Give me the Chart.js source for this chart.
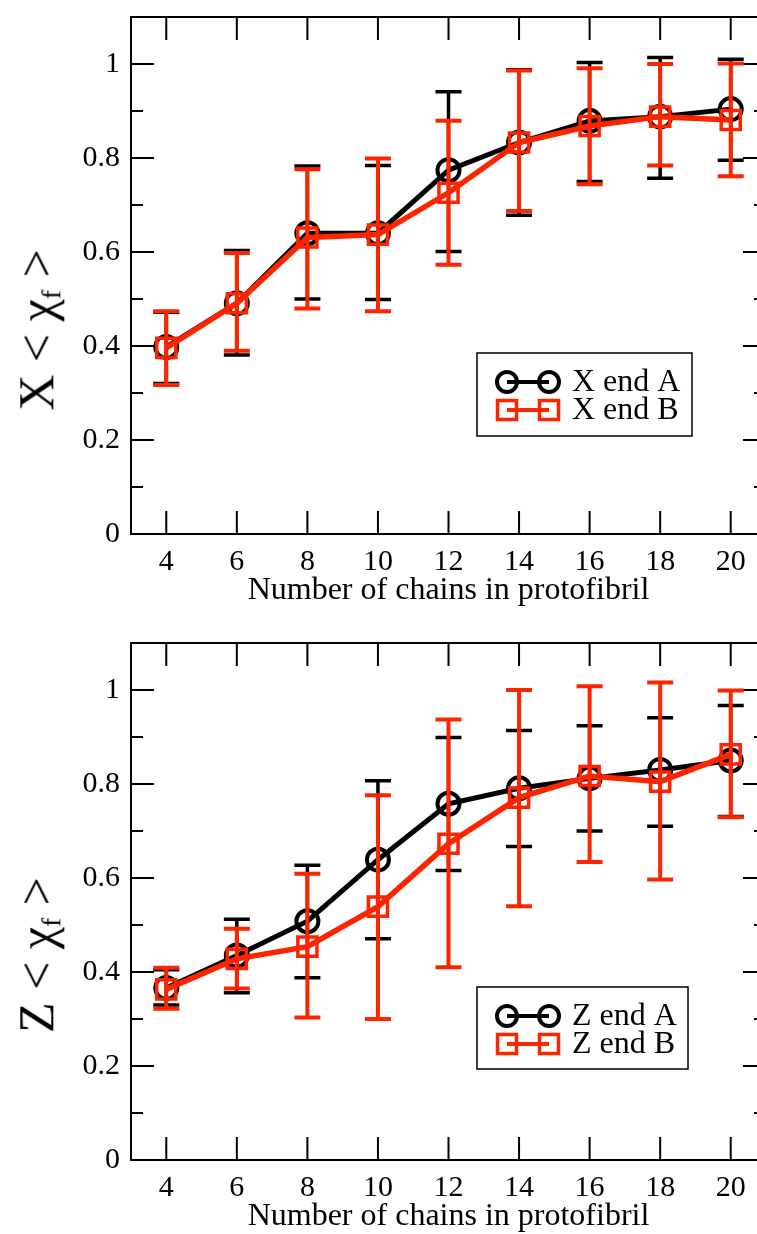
<!DOCTYPE html>
<html>
<head>
<meta charset="utf-8">
<script src="https://cdn.jsdelivr.net/npm/chart.js@4.4.0/dist/chart.umd.min.js"></script>
<style>
  body { margin: 0; width: 757px; height: 1234px; overflow: hidden; background: #fff; position: relative; }
  .panel { position: absolute; left: 0; width: 790px; height: 608px; }
  .ytitle {
    position: absolute; font-family: "Liberation Serif", serif; font-size: 50px; white-space: nowrap;
    transform: translate(-50%, -50%) rotate(-90deg); line-height: 1;
  }
  .ytitle sub { font-size: 55%; vertical-align: -0.25em; }
</style>
</head>
<body>
<div class="panel" style="top:0"><canvas id="chartX" width="790" height="608"></canvas></div>
<div class="panel" style="top:626px"><canvas id="chartZ" width="790" height="608"></canvas></div>
<div class="ytitle" style="left:38px; top:330px">X &lt; χ<sub>f</sub> &gt;</div>
<div class="ytitle" style="left:38px; top:955px">Z &lt; χ<sub>f</sub> &gt;</div>
<script>
// x values (number of chains)
const chains = [4, 6, 8, 10, 12, 14, 16, 18, 20];

// top panel, X direction
const xEndA = [0.398, 0.491, 0.640, 0.640, 0.774, 0.833, 0.879, 0.888, 0.904];
const xEndALow = [0.320, 0.381, 0.500, 0.499, 0.601, 0.678, 0.750, 0.757, 0.795];
const xEndAHigh = [0.472, 0.603, 0.783, 0.784, 0.941, 0.988, 1.003, 1.014, 1.010];
const xEndB = [0.396, 0.491, 0.631, 0.637, 0.726, 0.833, 0.868, 0.888, 0.881];
const xEndBLow = [0.317, 0.390, 0.480, 0.474, 0.573, 0.687, 0.744, 0.784, 0.761];
const xEndBHigh = [0.474, 0.598, 0.776, 0.799, 0.879, 0.986, 0.991, 1.000, 1.001];

// bottom panel, Z direction
const zEndA = [0.366, 0.435, 0.508, 0.639, 0.758, 0.791, 0.812, 0.830, 0.850];
const zEndALow = [0.330, 0.356, 0.388, 0.471, 0.616, 0.667, 0.700, 0.710, 0.731];
const zEndAHigh = [0.405, 0.512, 0.627, 0.807, 0.899, 0.914, 0.924, 0.941, 0.967];
const zEndB = [0.363, 0.428, 0.454, 0.539, 0.673, 0.771, 0.817, 0.805, 0.863];
const zEndBLow = [0.322, 0.365, 0.303, 0.300, 0.410, 0.540, 0.634, 0.597, 0.729];
const zEndBHigh = [0.409, 0.492, 0.609, 0.776, 0.937, 1.000, 1.008, 1.016, 0.999];

// axis ticks
const xTicks = [4, 6, 8, 10, 12, 14, 16, 18, 20];
const yTicks = [0, 0.2, 0.4, 0.6, 0.8, 1];
const yTickLabels = ["0", "0.2", "0.4", "0.6", "0.8", "1"];
const yMinorTicks = [0.1, 0.3, 0.5, 0.7, 0.9];

const RED = "#ff2400";
const FONT = '"Liberation Serif", serif';

// frame, inward ticks, error bars and the legend box
const gracePlugin = {
  id: "grace",
  beforeDatasetsDraw(chart) {
    const ctx = chart.ctx;
    const a = chart.chartArea;
    const xs = chart.scales.x;
    const ys = chart.scales.y;
    ctx.save();
    ctx.strokeStyle = "#000";
    ctx.lineWidth = 2;
    ctx.strokeRect(a.left, a.top, a.right - a.left, a.bottom - a.top);
    ctx.beginPath();
    xTicks.forEach((v) => {
      const px = xs.getPixelForValue(v);
      ctx.moveTo(px, a.bottom); ctx.lineTo(px, a.bottom - 23);
      ctx.moveTo(px, a.top); ctx.lineTo(px, a.top + 23);
    });
    yTicks.forEach((v) => {
      const py = ys.getPixelForValue(v);
      ctx.moveTo(a.left, py); ctx.lineTo(a.left + 23, py);
      ctx.moveTo(a.right, py); ctx.lineTo(a.right - 23, py);
    });
    yMinorTicks.forEach((v) => {
      const py = ys.getPixelForValue(v);
      ctx.moveTo(a.left, py); ctx.lineTo(a.left + 12, py);
      ctx.moveTo(a.right, py); ctx.lineTo(a.right - 12, py);
    });
    ctx.stroke();
    ctx.restore();
  },
  afterDatasetDraw(chart, args) {
    const ds = chart.data.datasets[args.index];
    const ctx = chart.ctx;
    const xs = chart.scales.x;
    const ys = chart.scales.y;
    ctx.save();
    ctx.strokeStyle = ds.borderColor;
    ctx.lineWidth = ds.errWidth;
    ctx.beginPath();
    ds.data.forEach((p, i) => {
      const px = xs.getPixelForValue(p.x);
      const lo = ys.getPixelForValue(ds.errLow[i]);
      const hi = ys.getPixelForValue(ds.errHigh[i]);
      ctx.moveTo(px, lo); ctx.lineTo(px, hi);
      ctx.moveTo(px - 13, lo); ctx.lineTo(px + 13, lo);
      ctx.moveTo(px - 13, hi); ctx.lineTo(px + 13, hi);
    });
    ctx.stroke();
    ctx.restore();
  },
  afterDraw(chart, args, opts) {
    const ctx = chart.ctx;
    const b = opts.box;
    ctx.save();
    ctx.strokeStyle = "#000";
    ctx.lineWidth = 1.5;
    ctx.strokeRect(b.x, b.y, b.w, b.h);
    chart.data.datasets.forEach((ds, i) => {
      const yRow = b.y + 29 + i * 28;
      const x1 = b.x + 30;
      const x2 = b.x + 72;
      ctx.strokeStyle = ds.borderColor;
      ctx.lineWidth = 4;
      ctx.beginPath();
      ctx.moveTo(x1, yRow); ctx.lineTo(x2, yRow);
      ctx.stroke();
      ctx.lineWidth = ds.pointBorderWidth;
      [x1, x2].forEach((mx) => {
        ctx.beginPath();
        if (ds.pointStyle === "rect") {
          ctx.rect(mx - 9.5, yRow - 9.5, 19, 19);
        } else {
          ctx.arc(mx, yRow, 10, 0, Math.PI * 2);
        }
        ctx.stroke();
      });
      ctx.fillStyle = "#000";
      ctx.font = "32px " + FONT;
      ctx.textBaseline = "middle";
      ctx.fillText(ds.label, b.x + 95, yRow + 1);
    });
    ctx.restore();
  },
};

function points(values) {
  return chains.map((c, i) => ({ x: c, y: values[i] }));
}

function makeChart(id, labelA, a, aLow, aHigh, labelB, b, bLow, bHigh, box) {
  const ctx = document.getElementById(id).getContext("2d");
  return new Chart(ctx, {
    type: "line",
    data: {
      datasets: [
        {
          label: labelA,
          data: points(a),
          errLow: aLow,
          errHigh: aHigh,
          errWidth: 3.5,
          borderColor: "#000",
          borderWidth: 5,
          pointStyle: "circle",
          pointRadius: 11,
          pointBorderWidth: 4,
          pointBorderColor: "#000",
          pointBackgroundColor: "rgba(0,0,0,0)",
          tension: 0,
          order: 2,
        },
        {
          label: labelB,
          data: points(b),
          errLow: bLow,
          errHigh: bHigh,
          errWidth: 4,
          borderColor: RED,
          borderWidth: 5.5,
          pointStyle: "rect",
          pointRadius: 13.5,
          pointBorderWidth: 3.5,
          pointBorderColor: RED,
          pointBackgroundColor: "rgba(0,0,0,0)",
          tension: 0,
          order: 1,
        },
      ],
    },
    options: {
      responsive: false,
      devicePixelRatio: 1,
      animation: false,
      layout: { padding: { top: 13, right: 24, left: 0, bottom: 0 } },
      plugins: {
        legend: { display: false },
        tooltip: { enabled: false },
        grace: { box: box },
      },
      scales: {
        x: {
          type: "linear",
          min: 3,
          max: 21,
          grid: { display: false, drawTicks: false },
          border: { display: false },
          afterBuildTicks: (s) => { s.ticks = xTicks.map((v) => ({ value: v })); },
          afterFit: (s) => { s.height = 74; s.paddingLeft = 0; s.paddingRight = 0; },
          ticks: { color: "#000", padding: 10, font: { family: FONT, size: 30 }, maxRotation: 0 },
          title: {
            display: true,
            text: "Number of chains in protofibril",
            color: "#000",
            font: { family: FONT, size: 32 },
            padding: { top: 0, bottom: -2 },
          },
        },
        y: {
          min: 0,
          max: 1.1,
          grid: { display: false, drawTicks: false },
          border: { display: false },
          afterBuildTicks: (s) => { s.ticks = yTicks.map((v) => ({ value: v })); },
          afterFit: (s) => { s.width = 131; s.paddingTop = 0; s.paddingBottom = 0; },
          ticks: {
            color: "#000",
            padding: 11,
            font: { family: FONT, size: 30 },
            callback: (v) => yTickLabels[yTicks.indexOf(v)],
          },
        },
      },
    },
    plugins: [gracePlugin],
  });
}

makeChart("chartX", "X end A", xEndA, xEndALow, xEndAHigh, "X end B", xEndB, xEndBLow, xEndBHigh,
  { x: 477, y: 353, w: 215, h: 83 });
makeChart("chartZ", "Z end A", zEndA, zEndALow, zEndAHigh, "Z end B", zEndB, zEndBLow, zEndBHigh,
  { x: 477, y: 361, w: 211, h: 82 });
</script>
</body>
</html>
